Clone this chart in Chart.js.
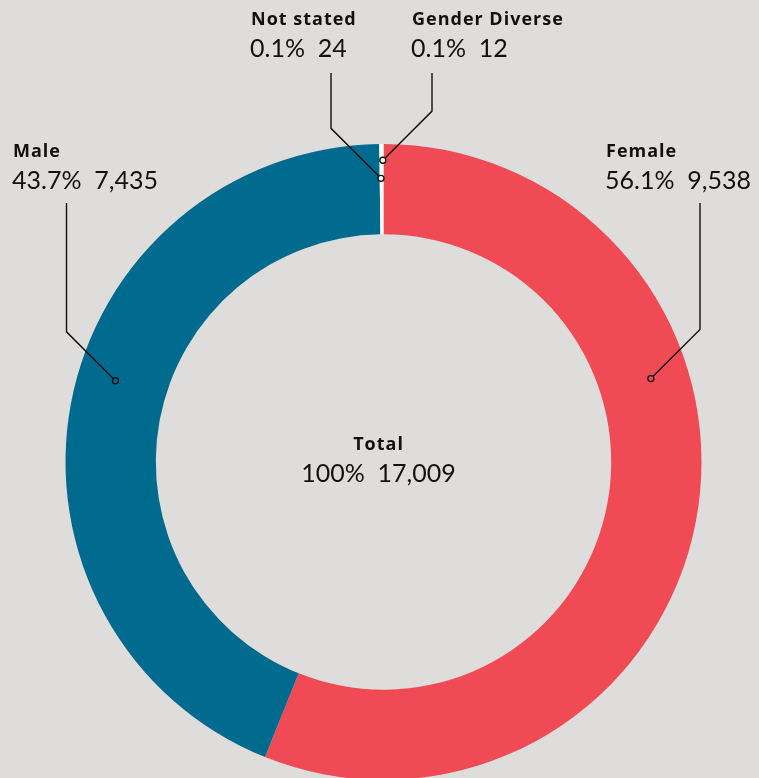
<!DOCTYPE html>
<html>
<head>
<meta charset="utf-8">
<script src="https://cdn.jsdelivr.net/npm/chart.js@4"></script>
<style>
  html, body { margin: 0; padding: 0; background: #dfdddb; overflow: hidden; }
  #wrap { position: relative; width: 759px; height: 780px; }
</style>
</head>
<body>
<div id="wrap"><canvas id="genderChart"></canvas></div>
<script>
// Data
const categories = ['Female', 'Male', 'Not stated', 'Gender Diverse'];
const counts = [9538, 7435, 24, 12];
const percents = ['56.1%', '43.7%', '0.1%', '0.1%'];
const totalLabel = ['Total', '100%', '17,009'];
const colors = ['#f04b55', '#006a8f', '#ffffff', '#ffffff'];

// Callout layout: where on the slice the dot sits, where the line bends, where the text goes
const callouts = [
    { along: 0.36, depth: 0.58, lineX: 700, lineTop: 203, textX: 606, textY: 157 },
    { along: 0.54, depth: 0.58, lineX: 66.5, lineTop: 203, textX: 13, textY: 157 },
    { along: 0.5, depth: 0.62, lineX: 331, lineTop: 73, textX: 251, textY: 25 },
    { along: 0.5, depth: 0.82, lineX: 432, lineTop: 73, textX: 412, textY: 25 }
];

const FONT = 'Lato, "Noto Sans", sans-serif';
const BOLD_FONT = 'bold 18px "Open Sans", sans-serif';

const calloutPlugin = {
    id: 'callouts',
    afterDatasetsDraw(chart) {
        const ctx = chart.ctx;
        const arcs = chart.getDatasetMeta(0).data;
        ctx.save();
        arcs.forEach(function(arc, i) {
            const c = callouts[i];
            const p = arc.getProps(['x', 'y', 'startAngle', 'endAngle', 'innerRadius', 'outerRadius'], true);
            const a = p.startAngle + (p.endAngle - p.startAngle) * c.along;
            const r = p.innerRadius + (p.outerRadius - p.innerRadius) * c.depth;
            const mx = p.x + Math.cos(a) * r;
            const my = p.y + Math.sin(a) * r;
            // 45 degree leg up to the bend, then straight up
            const dx = Math.abs(c.lineX - mx);
            const by = my - dx;
            ctx.strokeStyle = '#111';
            ctx.lineWidth = 1.4;
            ctx.beginPath();
            ctx.moveTo(mx, my);
            ctx.lineTo(c.lineX, by);
            ctx.lineTo(c.lineX, c.lineTop);
            ctx.stroke();
            ctx.beginPath();
            ctx.arc(mx, my, 3, 0, Math.PI * 2);
            ctx.fillStyle = colors[i];
            ctx.fill();
            ctx.stroke();

            // Labels
            ctx.fillStyle = '#111';
            ctx.textAlign = 'left';
            ctx.textBaseline = 'alphabetic';
            ctx.font = BOLD_FONT;
            ctx.letterSpacing = '1px';
            ctx.fillText(categories[i], c.textX, c.textY);
            ctx.letterSpacing = '0px';
            ctx.font = '25px ' + FONT;
            ctx.fillText(percents[i] + '  ' + counts[i].toLocaleString('en-US'), c.textX - 1, c.textY + 32);
        });

        // Centre total
        const cx = arcs[0].x - 5;
        const cy = arcs[0].y;
        ctx.textAlign = 'center';
        ctx.font = BOLD_FONT;
        ctx.letterSpacing = '1px';
        ctx.fillText(totalLabel[0], cx, cy - 12);
        ctx.letterSpacing = '0px';
        ctx.font = '25px ' + FONT;
        ctx.fillText(totalLabel[1] + '  ' + totalLabel[2], cx, cy + 20);
        ctx.restore();
    }
};

const chart = new Chart(document.getElementById('genderChart').getContext('2d'), {
    type: 'doughnut',
    data: {
        labels: categories,
        datasets: [{
            data: counts,
            backgroundColor: colors,
            borderWidth: 0
        }]
    },
    options: {
        responsive: true,
        maintainAspectRatio: false,
        animation: false,
        cutout: '71.6%',
        rotation: 0,
        layout: {
            padding: { top: 144, bottom: 0, left: 65.5, right: 57.5 }
        },
        plugins: {
            legend: { display: false },
            tooltip: { enabled: false }
        }
    },
    plugins: [calloutPlugin]
});
</script>
</body>
</html>
